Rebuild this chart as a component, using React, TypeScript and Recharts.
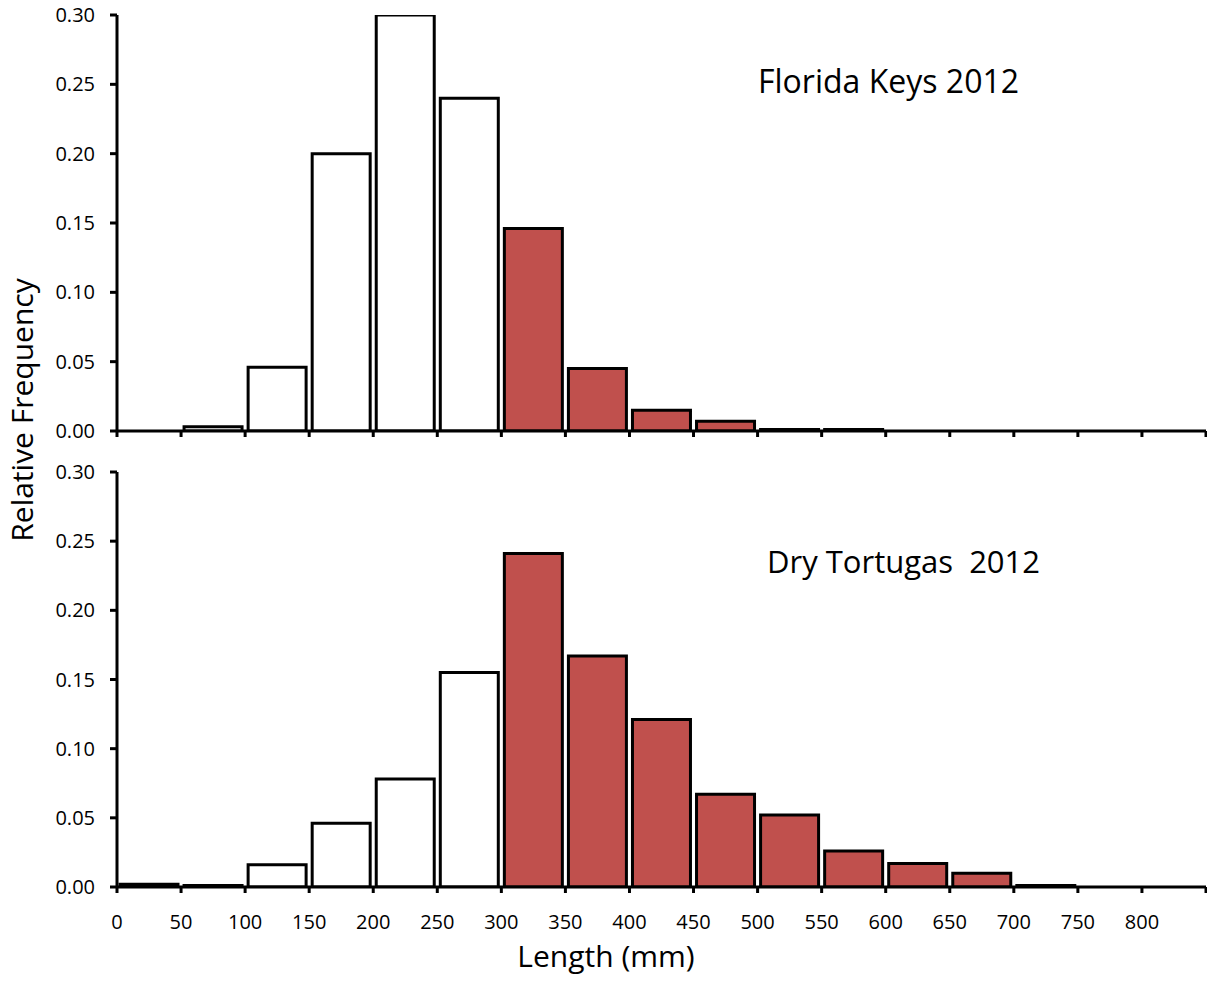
import React from 'react';
import { ComposedChart, Bar, Line, XAxis, YAxis, Cell } from 'recharts';

// Bin starts (mm); each bin is 50 mm wide
const bins = [0, 50, 100, 150, 200, 250, 300, 350, 400, 450, 500, 550, 600, 650, 700, 750, 800];
const floridaKeys = [0, 0.003, 0.046, 0.2, 0.3, 0.24, 0.146, 0.045, 0.015, 0.007, 0.001, 0.001, 0, 0, 0, 0, 0];
const dryTortugas = [0.002, 0.001, 0.016, 0.046, 0.078, 0.155, 0.241, 0.167, 0.121, 0.067, 0.052, 0.026, 0.017, 0.01, 0.001, 0, 0];
const xTicks = [0, 50, 100, 150, 200, 250, 300, 350, 400, 450, 500, 550, 600, 650, 700, 750, 800, 850];
const xTickLabels = ['0', '50', '100', '150', '200', '250', '300', '350', '400', '450', '500', '550', '600', '650', '700', '750', '800', ''];
const yTicks = [0, 0.05, 0.1, 0.15, 0.2, 0.25, 0.3];
const maturityThreshold = 300;

const FONT = '"Open Sans", sans-serif';
const RED = '#C0504D';

const data = bins.map((b, i) => ({ bin: String(b), start: b, fk: floridaKeys[i], dt: dryTortugas[i] }));

function Panel({ dataKey, height, top, marginTop, xHeight, showLabels }: { dataKey: string; height: number; top: number; marginTop: number; xHeight: number; showLabels: boolean }) {
  return (
    <div style={{ position: 'absolute', left: 0, top }}>
      <ComposedChart
        width={1207}
        height={height}
        data={data}
        margin={{ top: marginTop, right: 1, left: 0, bottom: 0 }}
        barCategoryGap={3}
      >
        <XAxis xAxisId="cat" dataKey="bin" type="category" orientation="top" height={0} hide />
        <XAxis
          xAxisId="num"
          dataKey="start"
          type="number"
          domain={[0, 850]}
          ticks={xTicks}
          allowDataOverflow
          height={xHeight}
          axisLine={{ stroke: '#000', strokeWidth: 3 }}
          tickLine={{ stroke: '#000', strokeWidth: 3 }}
          tickSize={6}
          tickMargin={22}
          interval={0}
          fontSize={20}
          tick={{ fill: '#000', fontSize: 20, fontFamily: FONT }}
          tickFormatter={(v: number) => (showLabels ? xTickLabels[xTicks.indexOf(v)] : '')}
        />
        <YAxis
          width={117}
          domain={[0, 0.3]}
          ticks={yTicks}
          interval={0}
          allowDataOverflow
          axisLine={{ stroke: '#000', strokeWidth: 3 }}
          tickLine={{ stroke: '#000', strokeWidth: 3 }}
          tickSize={7}
          tickMargin={15}
          fontSize={20}
          tick={{ fill: '#000', fontSize: 20, fontFamily: FONT }}
          tickFormatter={(v: number) => v.toFixed(2)}
        />
        <Bar xAxisId="cat" dataKey={dataKey} stroke="#000" strokeWidth={3} isAnimationActive={false}>
          {data.map((d, i) => (
            <Cell key={i} fill={d.start >= maturityThreshold ? RED : '#FFFFFF'} />
          ))}
        </Bar>
        <Line xAxisId="num" dataKey={dataKey} stroke="none" dot={false} activeDot={false} isAnimationActive={false} />
      </ComposedChart>
    </div>
  );
}

export default function App() {
  return (
    <div style={{ position: 'absolute', left: 0, top: 0, width: 1207, height: 982, background: '#fff', fontFamily: FONT }}>
      <Panel dataKey="fk" height={451} top={0} marginTop={15} xHeight={20} showLabels={false} />
      <Panel dataKey="dt" height={531} top={451} marginTop={21} xHeight={95} showLabels={true} />
      <svg width={1207} height={982} style={{ position: 'absolute', left: 0, top: 0, pointerEvents: 'none' }}>
        <text x={758} y={93} fontSize={32} fontFamily={FONT} fill="#000">Florida Keys 2012</text>
        <text x={767} y={573} fontSize={31} fontFamily={FONT} fill="#000" style={{ whiteSpace: 'pre' }}>{'Dry Tortugas  2012'}</text>
        <text x={606} y={967} fontSize={30} fontFamily={FONT} fill="#000" textAnchor="middle">Length (mm)</text>
        <text transform="translate(33,410) rotate(-90)" fontSize={30} fontFamily={FONT} fill="#000" textAnchor="middle">Relative Frequency</text>
      </svg>
    </div>
  );
}
